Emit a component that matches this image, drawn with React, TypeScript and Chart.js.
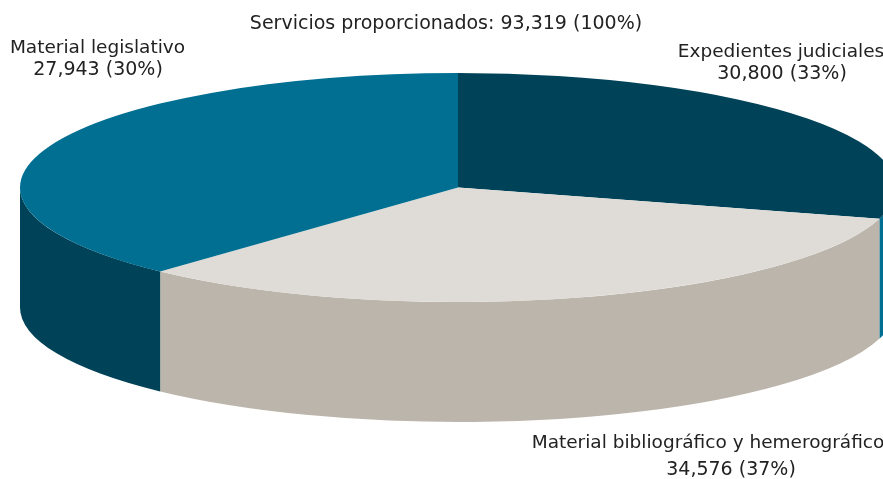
import React, { useEffect, useRef } from "react";
import { Chart, registerables } from "chart.js";

Chart.register(...registerables);

const categories = ["Expedientes judiciales", "Material bibliográfico y hemerográfico", "Material legislativo"];
const services = [30800, 34576, 27943];
const percents = [33, 37, 30];
const totalServices = 93319;
const totalLabel = "Servicios proporcionados";
// Angular share of each slice as drawn in the picture (its 3D view does not follow the printed percentages).
const drawnShares = [29.4, 32.5, 38.1];
const topColors = ["#004358", "#DFDCD7", "#006F91"];
const sideColors = ["#006F91", "#BCB5AB", "#004358"];

const fmt = (n: number) => n.toLocaleString("en-US");

const W = 883;
const H = 479;
const CX = 458;
const CY = 187.5;
const RX = 438;
const RY = 114.5;
const DEPTH = 120;
const FONT = '19px "DejaVu Sans"';
const NAME_FONT = '18.5px "DejaVu Sans"';
const TEXT = "#222222";

const pie3d = {
  id: "pie3d",
  beforeDatasetsDraw(chart: any) {
    const ctx = chart.ctx as CanvasRenderingContext2D;
    const arcs = chart.getDatasetMeta(0).data;
    arcs.forEach((a: any, i: number) => {
      // only the front half of the rim (angles 0..PI) can be seen
      const s = Math.max(a.startAngle, 0);
      const e = Math.min(a.endAngle, Math.PI);
      if (e <= s) return;
      ctx.beginPath();
      ctx.ellipse(CX, CY, RX, RY, 0, s, e);
      ctx.ellipse(CX, CY + DEPTH, RX, RY, 0, e, s, true);
      ctx.closePath();
      ctx.fillStyle = sideColors[i];
      ctx.fill();
    });
    const first = arcs[0];
    const R = first.outerRadius;
    ctx.save();
    ctx.translate(CX, CY);
    ctx.scale(RX / R, RY / R);
    ctx.translate(-first.x, -first.y);
  },
  afterDatasetsDraw(chart: any) {
    chart.ctx.restore();
  },
  afterDraw(chart: any) {
    const ctx = chart.ctx as CanvasRenderingContext2D;
    ctx.save();
    ctx.font = FONT;
    ctx.fillStyle = TEXT;
    ctx.textAlign = "center";
    ctx.textBaseline = "alphabetic";
    ctx.fillText(`${totalLabel}: ${fmt(totalServices)} (100%)`, 446, 29);
    const spots = [
      [781, 782, 57, 79],
      [708, 731, 448, 475],
      [97.5, 98, 53, 75],
    ];
    categories.forEach((c, i) => {
      const [x1, x2, y1, y2] = spots[i];
      ctx.font = NAME_FONT;
      ctx.fillText(c, x1, y1);
      ctx.font = FONT;
      ctx.fillText(`${fmt(services[i])} (${percents[i]}%)`, x2, y2);
    });
    ctx.restore();
  },
};

export default function App() {
  const ref = useRef<HTMLCanvasElement>(null);
  useEffect(() => {
    const chart = new Chart(ref.current!, {
      type: "pie",
      data: {
        labels: categories,
        datasets: [
          {
            data: drawnShares,
            backgroundColor: topColors,
            borderWidth: 0,
            clip: false,
          } as any,
        ],
      },
      options: {
        responsive: false,
        animation: false,
        plugins: { legend: { display: false }, tooltip: { enabled: false } },
      },
      plugins: [pie3d],
    });
    return () => chart.destroy();
  }, []);
  return (
    <div style={{ position: "absolute", left: 0, top: 0, width: W, height: H, background: "#fff", overflow: "hidden" }}>
      <canvas ref={ref} width={W} height={H} style={{ display: "block" }} />
    </div>
  );
}
